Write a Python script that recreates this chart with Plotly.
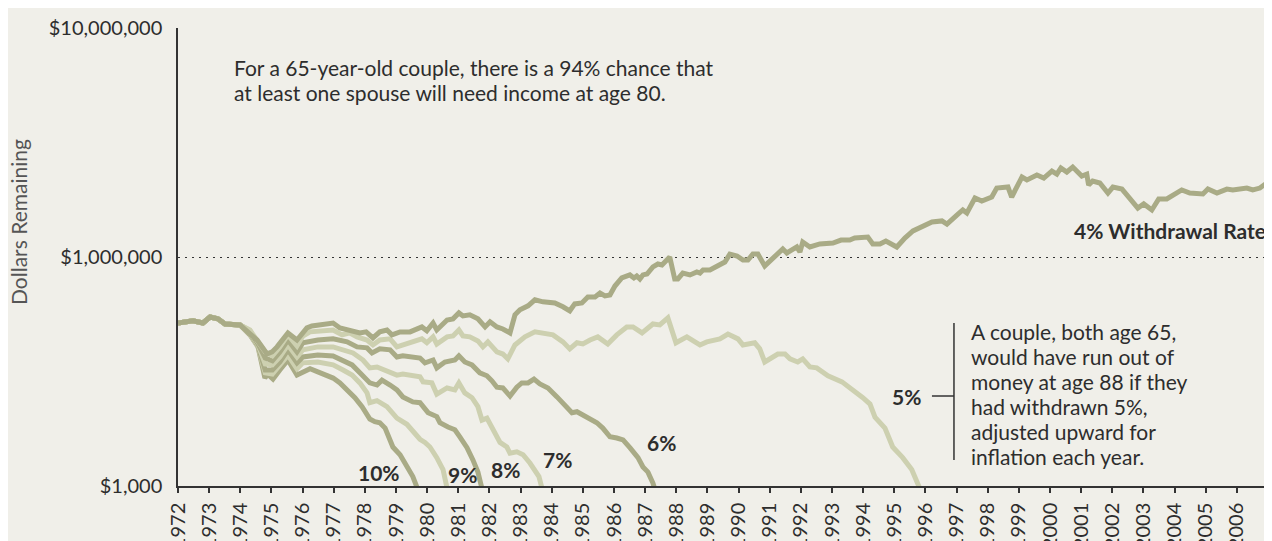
import plotly.graph_objects as go

# ---------------- data (years, portfolio value in $ thousands) ----------------
start_years = [1972.00, 1972.48, 1972.80, 1973.03, 1973.28, 1973.51, 1973.99]
start_values_k = [515, 526, 515, 547, 537, 510, 505]

years_4 = [1974.54, 1974.86, 1975.02, 1975.18, 1975.53, 1975.82, 1976.14, 1976.30, 1976.65, 1976.98,
           1977.20, 1977.62, 1977.84, 1978.04, 1978.26, 1978.48, 1978.71, 1978.87, 1979.13, 1979.45,
           1979.83, 1979.99, 1980.19, 1980.31, 1980.64, 1980.83, 1981.02, 1981.15, 1981.37, 1981.63,
           1981.86, 1982.02, 1982.24, 1982.43, 1982.66, 1982.82, 1982.98, 1983.24, 1983.46, 1983.72,
           1984.10, 1984.36, 1984.58, 1984.74, 1984.97, 1985.16, 1985.39, 1985.55, 1985.71, 1985.87,
           1986.03, 1986.25, 1986.51, 1986.64, 1986.73, 1986.83, 1986.93, 1987.06, 1987.25, 1987.41,
           1987.54, 1987.79, 1987.95, 1988.05, 1988.21, 1988.44, 1988.66, 1988.76, 1988.86, 1989.08,
           1989.24, 1989.40, 1989.56, 1989.72, 1989.95, 1990.14, 1990.30, 1990.46, 1990.62, 1990.84,
           1991.10, 1991.42, 1991.55, 1991.87, 1991.97, 1992.06, 1992.29, 1992.61, 1993.03, 1993.29,
           1993.57, 1993.73, 1994.15, 1994.31, 1994.54, 1994.73, 1995.08, 1995.34, 1995.60, 1996.08,
           1996.21, 1996.53, 1996.69, 1997.01, 1997.20, 1997.33, 1997.59, 1997.81, 1998.13, 1998.29,
           1998.65, 1998.77, 1999.10, 1999.26, 1999.58, 1999.80, 2000.06, 2000.22, 2000.35, 2000.54,
           2000.73, 2001.02, 2001.18, 2001.24, 2001.37, 2001.60, 2001.86, 2002.02, 2002.31, 2002.50,
           2002.82, 2003.01, 2003.27, 2003.49, 2003.75, 2004.23, 2004.49, 2004.91, 2005.07, 2005.36,
           2005.68, 2005.87, 2006.32, 2006.51, 2006.74, 2007.00]
values_4_k = [434, 377, 385, 405, 466, 434, 490, 500, 505, 515,
              490, 476, 466, 471, 443, 471, 480, 457, 471, 471,
              495, 476, 515, 480, 531, 537, 570, 553, 559, 537,
              495, 521, 495, 485, 466, 559, 588, 612, 650, 637,
              630, 606, 582, 624, 630, 669, 669, 696, 676, 682,
              747, 810, 835, 810, 826, 802, 835, 843, 905, 932,
              923, 1000, 802, 802, 851, 835, 860, 851, 877, 877,
              905, 923, 951, 1030, 1010, 970, 970, 1030, 1030, 914,
              990, 1084, 1041, 1106, 1051, 1163, 1106, 1140, 1151, 1186,
              1186, 1210, 1222, 1140, 1140, 1175, 1106, 1210, 1299, 1407,
              1422, 1437, 1393, 1525, 1605, 1557, 1810, 1755, 1828, 2000,
              2021, 1828, 2235, 2170, 2280, 2212, 2373, 2300, 2448, 2350,
              2471, 2257, 2300, 2062, 2147, 2105, 1903, 2021, 1980, 1846,
              1636, 1705, 1605, 1792, 1792, 1962, 1903, 1884, 1980, 1903,
              1980, 1962, 2000, 1962, 2000, 2125]

years_5 = [1974.31, 1974.57, 1974.80, 1975.03, 1975.27, 1975.53, 1975.82, 1976.01, 1976.24, 1976.98,
           1977.27, 1977.52, 1977.75, 1978.07, 1978.26, 1978.48, 1978.81, 1979.03, 1979.22, 1979.45,
           1979.83, 1979.99, 1980.19, 1980.31, 1980.64, 1980.83, 1981.02, 1981.15, 1981.37, 1981.63,
           1981.79, 1981.95, 1982.24, 1982.43, 1982.59, 1982.82, 1983.14, 1983.46, 1983.72, 1984.04,
           1984.36, 1984.58, 1984.81, 1985.00, 1985.23, 1985.48, 1985.80, 1986.09, 1986.41, 1986.61,
           1986.90, 1987.25, 1987.47, 1987.73, 1987.99, 1988.34, 1988.60, 1988.76, 1988.98, 1989.40,
           1989.66, 1989.98, 1990.14, 1990.52, 1990.68, 1990.84, 1991.26, 1991.49, 1991.65, 1991.90,
           1992.06, 1992.29, 1992.51, 1992.87, 1993.32, 1993.67, 1993.99, 1994.22, 1994.38, 1994.70,
           1994.95, 1995.27, 1995.56, 1995.84]
values_5_k = [480, 426, 385, 370, 405, 457, 409, 452, 471, 480,
              457, 466, 448, 434, 413, 434, 439, 405, 413, 422,
              439, 422, 448, 417, 448, 452, 480, 452, 448, 430,
              405, 426, 385, 377, 359, 413, 448, 471, 466, 457,
              426, 397, 422, 417, 434, 448, 417, 457, 495, 495,
              466, 510, 505, 542, 422, 448, 426, 413, 426, 439,
              461, 439, 413, 422, 397, 348, 377, 377, 359, 348,
              359, 331, 328, 303, 285, 263, 243, 228, 200, 179,
              148, 133, 118, 96]

years_6 = [1974.31, 1974.57, 1974.80, 1975.03, 1975.27, 1975.53, 1975.82, 1976.01, 1976.49, 1976.98,
           1977.43, 1977.75, 1978.07, 1978.23, 1978.48, 1978.81, 1979.03, 1979.22, 1979.77, 1979.93,
           1980.19, 1980.31, 1980.57, 1980.89, 1981.02, 1981.21, 1981.44, 1981.69, 1981.92, 1982.08,
           1982.24, 1982.43, 1982.66, 1982.88, 1983.04, 1983.24, 1983.43, 1983.62, 1983.88, 1984.17,
           1984.49, 1984.65, 1984.81, 1985.13, 1985.45, 1985.64, 1985.87, 1986.09, 1986.29, 1986.51,
           1986.61, 1986.77, 1986.93, 1987.09, 1987.25, 1987.33]
values_6_k = [476, 417, 362, 352, 385, 434, 385, 422, 434, 439,
              426, 405, 401, 381, 397, 393, 366, 370, 362, 345,
              355, 328, 348, 355, 370, 348, 338, 312, 303, 288,
              270, 268, 247, 270, 282, 282, 293, 279, 268, 245,
              222, 209, 211, 201, 189, 179, 164, 162, 159, 147,
              141, 133, 121, 115, 103, 95]

years_7 = [1974.31, 1974.57, 1974.80, 1975.03, 1975.27, 1975.53, 1975.82, 1976.01, 1976.49, 1976.98,
           1977.30, 1977.62, 1977.94, 1978.16, 1978.39, 1978.81, 1979.03, 1979.22, 1979.77, 1979.87,
           1980.15, 1980.31, 1980.64, 1980.89, 1981.02, 1981.21, 1981.44, 1981.63, 1981.76, 1981.92,
           1982.11, 1982.34, 1982.56, 1982.66, 1982.88, 1983.08, 1983.30, 1983.46, 1983.59, 1983.71]
values_7_k = [471, 413, 341, 338, 366, 413, 366, 393, 405, 405,
              393, 381, 355, 328, 331, 315, 305, 308, 300, 285,
              282, 252, 268, 263, 282, 255, 243, 222, 194, 198,
              176, 155, 148, 139, 141, 137, 126, 118, 110, 95]

years_8 = [1974.31, 1974.57, 1974.80, 1975.03, 1975.27, 1975.53, 1975.82, 1976.01, 1976.49, 1976.98,
           1977.30, 1977.59, 1977.84, 1978.16, 1978.39, 1978.55, 1978.81, 1979.03, 1979.22, 1979.54,
           1979.77, 1979.87, 1980.03, 1980.31, 1980.41, 1980.67, 1980.89, 1981.05, 1981.28, 1981.47,
           1981.63, 1981.78]
values_8_k = [466, 409, 321, 321, 348, 393, 345, 366, 373, 370,
              355, 338, 312, 282, 276, 290, 276, 263, 245, 233,
              231, 222, 209, 201, 189, 181, 176, 164, 147, 130,
              115, 95]

years_9 = [1974.31, 1974.57, 1974.80, 1975.03, 1975.27, 1975.53, 1975.82, 1976.01, 1976.49, 1976.98,
           1977.30, 1977.59, 1977.84, 1978.07, 1978.16, 1978.39, 1978.71, 1978.87, 1979.03, 1979.35,
           1979.61, 1979.77, 1979.93, 1980.09, 1980.31, 1980.51, 1980.66]
values_9_k = [461, 405, 312, 308, 335, 373, 325, 345, 348, 338,
              321, 305, 282, 255, 231, 236, 222, 209, 198, 186,
              171, 160, 155, 148, 133, 118, 95]

years_10 = [1974.31, 1974.57, 1974.79, 1974.88, 1975.05, 1975.27, 1975.53, 1975.82, 1976.01, 1976.24,
            1976.49, 1976.78, 1976.98, 1977.20, 1977.43, 1977.68, 1977.91, 1978.16, 1978.32, 1978.48,
            1978.65, 1978.90, 1979.13, 1979.35, 1979.54, 1979.72]
values_10_k = [457, 405, 296, 308, 293, 321, 355, 305, 315, 325,
               315, 305, 296, 282, 263, 243, 222, 196, 191, 189,
               179, 148, 137, 121, 110, 95]

series = [  # (label, years, values, colour key)
    ("10%", years_10, values_10_k, "dark"),
    ("9%", years_9, values_9_k, "light"),
    ("8%", years_8, values_8_k, "dark"),
    ("7%", years_7, values_7_k, "light"),
    ("6%", years_6, values_6_k, "dark"),
    ("5%", years_5, values_5_k, "light"),
    ("4%", years_4, values_4_k, "dark"),
]

year_ticks = list(range(1972, 2008))
year_labels = [str(y) if y <= 2006 else "" for y in year_ticks]
y_tick_vals = [1e5, 1e6, 1e7]
y_tick_text = ["$1,000", "$1,000,000", "$10,000,000"]

top_note = ["For a 65-year-old couple, there is a 94% chance that",
            "at least one spouse will need income at age 80."]
side_note = ["A couple, both age 65,", "would have run out of", "money at age 88 if they",
             "had withdrawn 5%,", "adjusted upward for", "inflation each year."]
line_labels = [("10%", 1978.45, 5.061), ("9%", 1981.12, 5.052), ("8%", 1982.50, 5.074),
               ("7%", 1984.20, 5.114), ("6%", 1987.54, 5.188)]

# ---------------- styling ----------------
BG = "#f0efe9"
COLORS = {"dark": "#a9ab86", "light": "#cdd0b0"}
TXT = "#2d2d2d"
FONT = "Lato"
LBL = 20
ANN = 21

fig = go.Figure()
for name, yrs, vals, ck in series:
    xs = start_years + yrs
    ys = [v * 1000 for v in start_values_k + vals]
    fig.add_trace(go.Scatter(x=xs, y=ys, mode="lines", name=name,
                             line=dict(color=COLORS[ck], width=5),
                             hoverinfo="skip", showlegend=False))

# page body has an 8px margin: size the figure so the plot area lands where the reference has it
fig.update_layout(
    width=1264, height=533,
    margin=dict(l=170, r=4, t=20, b=55),
    paper_bgcolor=BG, plot_bgcolor=BG,
    font=dict(family=FONT, size=LBL, color=TXT),
    showlegend=False,
)
fig.update_xaxes(range=[1972, 2007], tickmode="array", tickvals=year_ticks, ticktext=year_labels,
                 tickangle=-90, ticks="outside", ticklen=5, tickcolor="#333", tickwidth=1.5,
                 showline=True, linecolor="#333", linewidth=1.5, showgrid=False, zeroline=False,
                 tickfont=dict(size=LBL, color=TXT, family=FONT), ticklabelstandoff=2,
                 automargin=False)
fig.update_yaxes(type="log", range=[5, 7], tickmode="array", tickvals=y_tick_vals, ticktext=y_tick_text,
                 showline=True, linecolor="#333", linewidth=1.5, ticks="",
                 showgrid=True, gridcolor="#333", gridwidth=1.2, griddash="2px,5px",
                 zeroline=False, tickfont=dict(size=LBL, color=TXT, family=FONT),
                 ticklabelstandoff=10, automargin=False)

ann = []
ann.append(dict(text="Dollars Remaining", xref="paper", yref="paper", x=-0.147, y=0.576,
                xanchor="center", yanchor="middle",
                textangle=-90, showarrow=False, font=dict(size=ANN, color="#555")))
for i, line in enumerate(top_note):
    ann.append(dict(text=line, xref="paper", yref="paper", x=0.0495, y=0.9148 - i * 0.0546,
                    xanchor="left", yanchor="middle", align="left", showarrow=False,
                    font=dict(size=ANN, color=TXT)))
ann.append(dict(text="<b>4% Withdrawal Rate</b>", xref="paper", yref="y", x=1.0, y=6.114,
                xanchor="right", yanchor="middle", showarrow=False, font=dict(size=ANN, color=TXT)))
for txt, xx, yy in line_labels:
    ann.append(dict(text=f"<b>{txt}</b>", x=xx, y=yy, xref="x", yref="y", showarrow=False,
                    xanchor="center", yanchor="middle", font=dict(size=ANN, color=TXT)))
ann.append(dict(text="<b>5%</b>", xref="paper", yref="paper", x=0.6835, y=0.1965, xanchor="right",
                yanchor="middle", showarrow=False, font=dict(size=ANN, color=TXT)))
for i, line in enumerate(side_note):
    ann.append(dict(text=line, xref="paper", yref="paper", x=0.7257, y=0.3384 - i * 0.0550,
                    xanchor="left", yanchor="middle", align="left", showarrow=False,
                    font=dict(size=ANN, color=TXT)))
fig.update_layout(annotations=ann)

fig.add_shape(type="line", xref="paper", yref="paper", x0=0.7119, x1=0.7119, y0=0.0568, y1=0.3559,
              line=dict(color="#333", width=1.5))
fig.add_shape(type="line", xref="paper", yref="paper", x0=0.6917, x1=0.7119, y0=0.1965, y1=0.1965,
              line=dict(color="#333", width=1.5))

fig.write_html("out.html")
